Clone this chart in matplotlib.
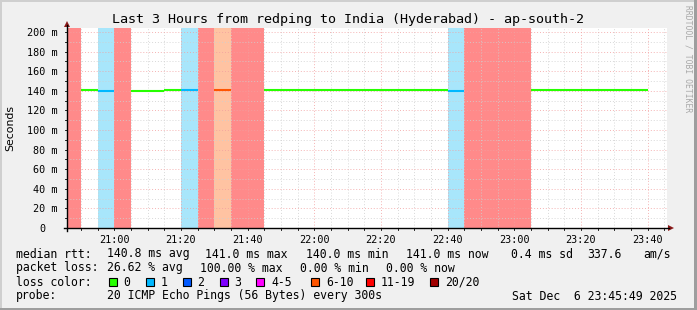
import numpy as np
import matplotlib
matplotlib.use("Agg")
import matplotlib.pyplot as plt
from matplotlib.patches import Rectangle, Polygon

# ---------------- data ----------------
title = "Last 3 Hours from redping to India (Hyderabad) - ap-south-2"
seg_start = ["20:45:49", "20:50", "20:55", "21:00", "21:05", "21:15", "21:20", "21:25",
             "21:30", "21:35", "21:45", "22:30", "22:40", "22:45", "23:05", "23:40"]
seg_end = ["20:50", "20:55", "21:00", "21:05", "21:15", "21:20", "21:25", "21:30",
           "21:35", "21:45", "22:30", "22:40", "22:45", "23:05", "23:40", "23:45:49"]
seg_loss = ["20/20", "0", "1", "20/20", "0", "0", "1", "20/20",
            "6-10", "20/20", "0", "0", "1", "20/20", "0", None]
seg_median = [np.nan, 141.0, 140.2, np.nan, 140.2, 141.0, 141.0, np.nan,
              141.3, np.nan, 141.0, 140.5, 140.2, np.nan, 141.0, np.nan]

x_tick_labels = ["21:00", "21:20", "21:40", "22:00", "22:20", "22:40", "23:00", "23:20", "23:40"]
y_tick_values = [0, 20, 40, 60, 80, 100, 120, 140, 160, 180, 200]
y_tick_labels = ["0", "20 m", "40 m", "60 m", "80 m", "100 m", "120 m", "140 m", "160 m", "180 m", "200 m"]

loss_classes = ["0", "1", "2", "3", "4-5", "6-10", "11-19", "20/20"]
loss_line_colors = ["#26ff00", "#00b8ff", "#0059ff", "#7e00ff", "#ff00ff", "#ff5500", "#ff0000", "#a10000"]
loss_band_colors = {"1": "#a8e6fb", "6-10": "#ffc3a2", "20/20": "#ff8a8a"}

stats_rtt = ["140.8 ms avg", "141.0 ms max", "140.0 ms min", "141.0 ms now", "0.4 ms sd", "337.6", "am/s"]
stats_loss = ["26.62 % avg", "100.00 % max", "0.00 % min", "0.00 % now"]
probe_text = "20 ICMP Echo Pings (56 Bytes) every 300s"
date_text = "Sat Dec  6 23:45:49 2025"

# ---------------- helpers ----------------
def tmin(s):
    p = [int(v) for v in s.split(":")]
    h, m = p[0], p[1]
    sec = p[2] if len(p) > 2 else 0
    return (h - 20) * 60 + m + sec / 60.0

W, H = 697, 310
fig = plt.figure(figsize=(W / 100, H / 100), dpi=100)
fig.patch.set_facecolor("#f0f0f0")

# 3D frame
fig.add_artist(Rectangle((0, 0), 1, 2 / H, transform=fig.transFigure, color="#9e9e9e", lw=0))
fig.add_artist(Rectangle((1 - 3 / W, 0), 3 / W, 1, transform=fig.transFigure, color="#9e9e9e", lw=0))
fig.add_artist(Rectangle((0, 1 - 2 / H), 1 - 3 / W, 2 / H, transform=fig.transFigure, color="#cfcfcf", lw=0))
fig.add_artist(Rectangle((0, 2 / H), 2 / W, 1 - 4 / H, transform=fig.transFigure, color="#cfcfcf", lw=0))

L, R, T, B = 67, 667, 28, 228
ax = fig.add_axes([L / W, 1 - B / H, (R - L) / W, (B - T) / H])
ax.set_facecolor("white")
x0, x1 = tmin("20:45:49"), tmin("23:45:49")
ymax = 200 * (B - T) / 196.0
ax.set_xlim(x0, x1)
ax.set_ylim(0, ymax)

# loss bands and median line
line_color_map = dict(zip(loss_classes, loss_line_colors))
for s, e, lc, med in zip(seg_start, seg_end, seg_loss, seg_median):
    a, b = tmin(s), tmin(e)
    if lc in loss_band_colors:
        ax.axvspan(a, b, color=loss_band_colors[lc], lw=0, zorder=1)
    if lc is not None and not np.isnan(med):
        ax.hlines(med, a, b, color=line_color_map[lc], lw=1.5, zorder=3)

# grid (drawn on top of bands, rrdtool style)
for m in np.arange(50, x1, 5):
    major = (m % 20 == 0)
    ax.axvline(m, color="#f2a0a0" if major else "#cfcfcf", lw=0.7,
               linestyle=(0, (1, 2)), zorder=2, alpha=0.8)
for v in np.arange(10, ymax, 10):
    major = (v % 20 == 0)
    ax.axhline(v, color="#f2a0a0" if major else "#cfcfcf", lw=0.7,
               linestyle=(0, (1, 2)), zorder=2, alpha=0.8)

for sp in ax.spines.values():
    sp.set_visible(False)

ax.set_xticks([tmin(t) for t in x_tick_labels])
ax.set_xticklabels(x_tick_labels, fontfamily="DejaVu Sans Mono", fontsize=7.3)
ax.set_yticks(y_tick_values)
ax.set_yticklabels(y_tick_labels, fontfamily="DejaVu Sans Mono", fontsize=7.3)
ax.tick_params(axis="y", length=0, pad=7)
ax.tick_params(axis="x", length=0, pad=5)
for lab in ax.get_yticklabels():
    if lab.get_text() == "0":
        lab.set_x(-12 / (R - L))
        lab.set_ha("right")

# axes lines and arrows
fig.add_artist(plt.Line2D([L / W, L / W], [1 - (B + 3) / H, 1 - 25 / H], color="black", lw=1))
fig.add_artist(plt.Line2D([(L - 3) / W, 669 / W], [1 - B / H, 1 - B / H], color="black", lw=1))
fig.add_artist(Polygon([[(L - 3) / W, 1 - 27 / H], [(L + 3) / W, 1 - 27 / H], [L / W, 1 - 21 / H]],
                       closed=True, transform=fig.transFigure, color="#8b1a1a", lw=0))
fig.add_artist(Polygon([[668 / W, 1 - (B - 3) / H], [668 / W, 1 - (B + 3) / H], [674 / W, 1 - B / H]],
                       closed=True, transform=fig.transFigure, color="#8b1a1a", lw=0))
# small ticks on axes
for m in np.arange(50, x1, 5):
    px = L + (m - x0) / (x1 - x0) * (R - L)
    fig.add_artist(plt.Line2D([px / W, px / W], [1 - (B + 2) / H, 1 - B / H], color="black", lw=0.6))
for v in np.arange(10, ymax, 10):
    py = B - v / ymax * (B - T)
    fig.add_artist(plt.Line2D([(L - 2) / W, L / W], [1 - py / H, 1 - py / H], color="black", lw=0.6))

mono = "DejaVu Sans Mono"
fig.text(348 / W, 1 - 19 / H, title, ha="center", va="center", fontfamily=mono, fontsize=9.6)
fig.text(10 / W, 1 - 128 / H, "Seconds", rotation=90, ha="center", va="center",
         fontfamily="DejaVu Sans", fontsize=7.8)
fig.text(688 / W, 1 - 59 / H, "RRDTOOL / TOBI OETIKER", rotation=-90, ha="center", va="center",
         fontfamily=mono, fontsize=5.8, color="#a8a8a8")

fs = 8.3
def tx(x, y, s):
    fig.text(x / W, 1 - y / H, s, ha="left", va="center", fontfamily=mono, fontsize=fs)

# legend lines
tx(16, 254, "median rtt:")
for x, s in zip([107, 205, 306, 406, 511, 587.5, 643], stats_rtt):
    tx(x, 254, s)
tx(16, 268, "packet loss:")
for x, s in zip([107, 200, 300, 386], stats_loss):
    tx(x, 268, s)
tx(16, 282, "loss color:")
box_x = [108.5, 145.5, 182.5, 219.5, 256, 311, 366, 430]
for bx, lc, col in zip(box_x, loss_classes, loss_line_colors):
    fig.add_artist(Rectangle((bx / W, 1 - 286 / H), 8 / W, 8 / H, transform=fig.transFigure,
                             facecolor=col, edgecolor="black", lw=0.8))
    tx(bx + 15, 282, lc)
tx(16, 296, "probe:")
tx(107, 296, probe_text)
tx(512.5, 296, date_text)

fig.savefig("out.png", dpi=100, facecolor=fig.get_facecolor())
